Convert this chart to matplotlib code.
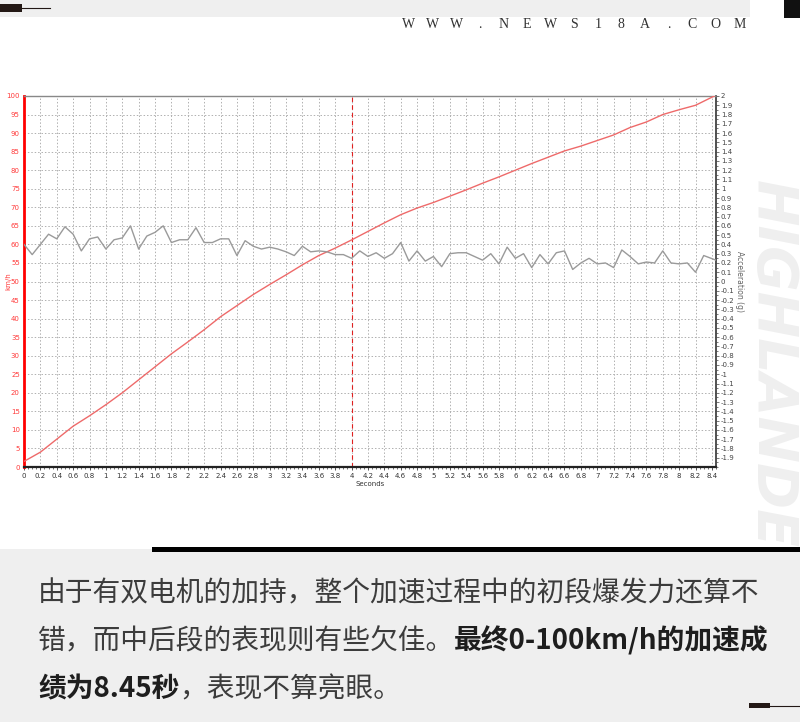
import matplotlib
matplotlib.use("Agg")
import matplotlib.pyplot as plt
from matplotlib.patches import Rectangle
from matplotlib.lines import Line2D
from matplotlib.ticker import MultipleLocator, FixedLocator

# ---------------- data ----------------
speed_time = [0.0, 0.2, 0.4, 0.6, 0.8, 1.0, 1.2, 1.4, 1.6, 1.8, 2.0, 2.2, 2.4, 2.6,
              2.8, 3.0, 3.2, 3.4, 3.6, 3.8, 4.0, 4.2, 4.4, 4.6, 4.8, 5.0, 5.2, 5.4,
              5.6, 5.8, 6.0, 6.2, 6.4, 6.6, 6.8, 7.0, 7.2, 7.4, 7.6, 7.8, 8.0, 8.2, 8.43]
speed_kmh = [1.5, 4.0, 7.5, 11.0, 13.8, 16.8, 20.0, 23.5, 27.0, 30.5, 33.7, 37.0,
             40.5, 43.5, 46.5, 49.2, 51.8, 54.5, 57.0, 59.0, 61.2, 63.5, 65.8, 68.0,
             69.8, 71.3, 73.0, 74.7, 76.5, 78.2, 80.0, 81.8, 83.5, 85.2, 86.5, 88.0,
             89.5, 91.5, 93.0, 95.0, 96.3, 97.5, 100.0]

accel_time = [0.0, 0.1, 0.2, 0.3, 0.4, 0.5, 0.6, 0.7, 0.8, 0.9,
              1.0, 1.1, 1.2, 1.3, 1.4, 1.5, 1.6, 1.7, 1.8, 1.9,
              2.0, 2.1, 2.2, 2.3, 2.4, 2.5, 2.6, 2.7, 2.8, 2.9,
              3.0, 3.1, 3.2, 3.3, 3.4, 3.5, 3.6, 3.7, 3.8, 3.9,
              4.0, 4.1, 4.2, 4.3, 4.4, 4.5, 4.6, 4.7, 4.8, 4.9,
              5.0, 5.1, 5.2, 5.3, 5.4, 5.5, 5.6, 5.7, 5.8, 5.9,
              6.0, 6.1, 6.2, 6.3, 6.4, 6.5, 6.6, 6.7, 6.8, 6.9,
              7.0, 7.1, 7.2, 7.3, 7.4, 7.5, 7.6, 7.7, 7.8, 7.9,
              8.0, 8.1, 8.2, 8.3, 8.45]
accel_g = [0.40, 0.29, 0.40, 0.51, 0.46, 0.59, 0.51, 0.33, 0.46, 0.48,
           0.35, 0.45, 0.47, 0.60, 0.35, 0.49, 0.53, 0.60, 0.42, 0.45,
           0.45, 0.58, 0.42, 0.42, 0.46, 0.46, 0.28, 0.44, 0.38, 0.35,
           0.37, 0.35, 0.32, 0.28, 0.38, 0.32, 0.33, 0.32, 0.29, 0.29,
           0.25, 0.33, 0.27, 0.31, 0.25, 0.30, 0.42, 0.22, 0.33, 0.22,
           0.27, 0.16, 0.30, 0.31, 0.31, 0.27, 0.23, 0.30, 0.19, 0.37,
           0.25, 0.30, 0.15, 0.29, 0.19, 0.31, 0.33, 0.13, 0.20, 0.25,
           0.19, 0.20, 0.15, 0.34, 0.27, 0.19, 0.21, 0.20, 0.33, 0.20,
           0.19, 0.20, 0.10, 0.28, 0.23]

x_ticks = [0, 0.2, 0.4, 0.6, 0.8, 1, 1.2, 1.4, 1.6, 1.8, 2, 2.2, 2.4, 2.6, 2.8,
           3, 3.2, 3.4, 3.6, 3.8, 4, 4.2, 4.4, 4.6, 4.8, 5, 5.2, 5.4, 5.6, 5.8,
           6, 6.2, 6.4, 6.6, 6.8, 7, 7.2, 7.4, 7.6, 7.8, 8, 8.2, 8.4]
marker_time = 4.0

site = "WWW.NEWS18A.COM"
line1 = "由于有双电机的加持，整个加速过程中的初段爆发力还算不"
line2 = [("错，而中后段的表现则有些欠佳。", False), ("最终0-100km/h的加速成", True)]
line3 = [("绩为8.45秒", True), ("，表现不算亮眼。", False)]

# ---------------- figure ----------------
W, H = 800, 722
fig = plt.figure(figsize=(W / 100, H / 100), dpi=100)
fig.patch.set_facecolor("white")
CJK = ["Noto Sans CJK SC", "DejaVu Sans"]

def px(x, y):
    return x / W, 1 - y / H

# watermark
fig.text(*px(772, 385), "HIGHLANDER", rotation=-90, ha="center", va="center",
         fontsize=40, fontweight="bold", fontstyle="italic", color="#efefef",
         family=["DejaVu Sans"], zorder=0)

# header
fig.patches.append(Rectangle(px(0, 17), 750 / W, 17 / H, transform=fig.transFigure,
                             facecolor="#efefef", edgecolor="none", zorder=1))
fig.patches.append(Rectangle(px(0, 12), 22 / W, 8 / H, transform=fig.transFigure,
                             facecolor="#231815", edgecolor="none", zorder=2))
fig.lines.append(Line2D([22 / W, 50 / W], [1 - 8 / H, 1 - 8 / H], transform=fig.transFigure,
                        color="#231815", lw=0.8, zorder=2))
fig.patches.append(Rectangle(px(784, 18), 16 / W, 18 / H, transform=fig.transFigure,
                             facecolor="#111111", edgecolor="none", zorder=2))
for i, ch in enumerate(site):
    fig.text(*px(409 + i * 23.6, 25), ch, ha="center", va="center",
             fontsize=10, family=["Liberation Serif"], color="#333333")

# bottom panel
fig.patches.append(Rectangle((0, 0), 1, 1 - 549 / H, transform=fig.transFigure,
                             facecolor="#efefef", edgecolor="none", zorder=1))
fig.patches.append(Rectangle(px(152, 552), (W - 152) / W, 5 / H, transform=fig.transFigure,
                             facecolor="#000000", edgecolor="none", zorder=2))
fig.patches.append(Rectangle(px(749, 708), 21 / W, 5 / H, transform=fig.transFigure,
                             facecolor="#231815", edgecolor="none", zorder=2))
fig.lines.append(Line2D([770 / W, 1], [1 - 705.5 / H, 1 - 705.5 / H], transform=fig.transFigure,
                        color="#231815", lw=0.8, zorder=2))

# ---------------- chart ----------------
ax = fig.add_axes([24 / W, 1 - 467 / H, (716 - 24) / W, (467 - 96) / H])
ax.set_zorder(3)
ax.set_facecolor("white")
ax.set_xlim(0, 8.45)
ax.set_ylim(0, 100)
ax.set_xticks(x_ticks)
ax.set_xticklabels([f"{t:g}" for t in x_ticks])
ax.set_yticks(range(0, 101, 5))
ax.grid(True, color="#b0b0b0", linestyle=(0, (1.5, 2)), linewidth=0.7)
ax.tick_params(axis="x", labelsize=5, length=2, width=0.6, colors="#333333", pad=2)
ax.xaxis.set_minor_locator(MultipleLocator(0.05))
ax.tick_params(axis="x", which="minor", length=1.2, width=0.5, color="#333333")
ax.tick_params(axis="y", labelsize=5, length=0, labelcolor="#ff3a3a", pad=3)
ax.set_xlabel("Seconds", fontsize=5, color="#333333", labelpad=2)
ax.set_ylabel("km/h", fontsize=5, color="#ff3a3a")
ax.yaxis.set_label_coords(-13 / 692, 0.5)
for side, col, lw in [("left", "#ff0000", 2.0), ("bottom", "#222222", 1.6),
                      ("top", "#888888", 1.0), ("right", "#333333", 1.2)]:
    ax.spines[side].set_color(col)
    ax.spines[side].set_linewidth(lw)

ax.axvline(marker_time, color="#e02020", linestyle=(0, (4, 3)), linewidth=0.8)
ax.plot(speed_time, speed_kmh, color="#ee6a6a", linewidth=1.0, zorder=4)

ax2 = ax.twinx()
ax2.set_ylim(-2, 2)
rticks = [round(-1.9 + 0.1 * i, 1) for i in range(40)]
ax2.yaxis.set_major_locator(FixedLocator(rticks))
ax2.set_yticklabels([f"{v:g}" for v in rticks])
ax2.yaxis.set_minor_locator(MultipleLocator(0.05))
ax2.tick_params(axis="y", labelsize=5, length=2, width=0.5, colors="#444444", pad=1.5)
ax2.tick_params(axis="y", which="minor", length=1.2, width=0.5, color="#444444")
ax2.set_ylabel("Acceleration (g)", fontsize=5.5, color="#666666", rotation=270, labelpad=7)
for s in ax2.spines.values():
    s.set_visible(False)
ax2.plot(accel_time, accel_g, color="#9a9a9a", linewidth=1.0, zorder=3)

# ---------------- caption ----------------
renderer = fig.canvas.get_renderer()

def draw_runs(x0, y0, runs):
    x = x0
    for s, bold in runs:
        t = fig.text(x / W, 1 - y0 / H, s, ha="left", va="center", fontsize=20,
                     family=CJK, fontweight="bold" if bold else "normal",
                     color="#1e1e1e" if bold else "#3c3c3c", zorder=5)
        bb = t.get_window_extent(renderer)
        x += bb.width

draw_runs(38, 593, [(line1, False)])
draw_runs(38, 641, line2)
draw_runs(38, 689, line3)

fig.savefig("out.png", dpi=100, facecolor=fig.get_facecolor())
